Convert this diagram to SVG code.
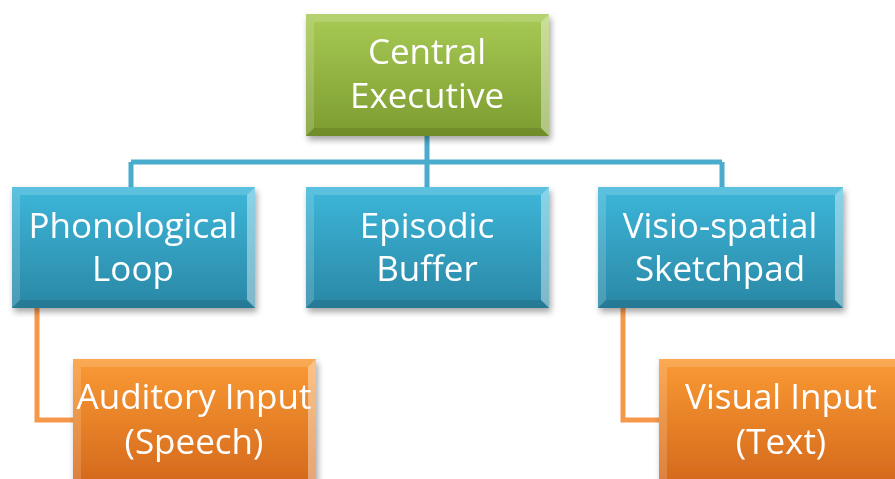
<svg xmlns="http://www.w3.org/2000/svg" width="895" height="479" viewBox="0 0 895 479">
<defs>
<linearGradient id="gGreen" x1="0" y1="0" x2="0" y2="1"><stop offset="0" stop-color="#a8ca55"/><stop offset="1" stop-color="#7c9c30"/></linearGradient>
<linearGradient id="gBlue" x1="0" y1="0" x2="0" y2="1"><stop offset="0" stop-color="#3db7da"/><stop offset="1" stop-color="#2a87a5"/></linearGradient>
<linearGradient id="gOrange" x1="0" y1="0" x2="0" y2="1"><stop offset="0" stop-color="#fa9a34"/><stop offset="1" stop-color="#d4691c"/></linearGradient>
<filter id="sh" x="-10%" y="-10%" width="125%" height="130%"><feDropShadow dx="2" dy="4" stdDeviation="3" flood-color="#000" flood-opacity="0.35"/></filter>
</defs>
<style>
.t{font-family:"Open Sans","Liberation Sans",sans-serif;font-size:35px;fill:#fff;text-anchor:middle}
.bl{fill:none;stroke:#4aaccc;stroke-width:5}
.or{fill:none;stroke:#f5984a;stroke-width:5}
.hl{fill:#fff;opacity:0.16}
.hr{fill:#fff;opacity:0.4}
.dk{fill:#000;opacity:0.1}
</style>
<g id="connectors">
<path class="bl" d="M427 136V187M131 162H722M131 162V187M722 162V187"/>
<path class="or" d="M37 308V420H73M623 308V420H659"/>
</g>
<g id="central" filter="url(#sh)">
<rect x="306" y="14" width="243" height="122" fill="url(#gGreen)"/>
<polygon class="hl" points="306,14 549,14 541,22 314,22"/>
<polygon class="hl" points="306,14 314,22 314,128 306,136"/>
<polygon class="hr" points="549,14 549,136 541,128 541,22"/>
<polygon class="dk" points="306,136 549,136 541,128 314,128"/>
<text class="t" x="427" y="64">Central</text>
<text class="t" x="427" y="108">Executive</text>
</g>
<g id="phonological" filter="url(#sh)">
<rect x="12" y="187" width="243" height="121" fill="url(#gBlue)"/>
<polygon class="hl" points="12,187 255,187 247,195 20,195"/>
<polygon class="hl" points="12,187 20,195 20,300 12,308"/>
<polygon class="hr" points="255,187 255,308 247,300 247,195"/>
<polygon class="dk" points="12,308 255,308 247,300 20,300"/>
<text class="t" x="133" y="238">Phonological</text>
<text class="t" x="133" y="281">Loop</text>
</g>
<g id="episodic" filter="url(#sh)">
<rect x="306" y="187" width="243" height="121" fill="url(#gBlue)"/>
<polygon class="hl" points="306,187 549,187 541,195 314,195"/>
<polygon class="hl" points="306,187 314,195 314,300 306,308"/>
<polygon class="hr" points="549,187 549,308 541,300 541,195"/>
<polygon class="dk" points="306,308 549,308 541,300 314,300"/>
<text class="t" x="427" y="238">Episodic</text>
<text class="t" x="427" y="281">Buffer</text>
</g>
<g id="visiospatial" filter="url(#sh)">
<rect x="598" y="187" width="245" height="121" fill="url(#gBlue)"/>
<polygon class="hl" points="598,187 843,187 835,195 606,195"/>
<polygon class="hl" points="598,187 606,195 606,300 598,308"/>
<polygon class="hr" points="843,187 843,308 835,300 835,195"/>
<polygon class="dk" points="598,308 843,308 835,300 606,300"/>
<text class="t" x="720" y="238">Visio-spatial</text>
<text class="t" x="720" y="281">Sketchpad</text>
</g>
<g id="auditory" filter="url(#sh)">
<rect x="73" y="359" width="243" height="125" fill="url(#gOrange)"/>
<polygon class="hl" points="73,359 316,359 308,367 81,367"/>
<polygon class="hl" points="73,359 81,367 81,484 73,484"/>
<polygon class="hr" points="316,359 316,484 308,484 308,367"/>
<text class="t" x="194" y="409">Auditory Input</text>
<text class="t" x="194" y="454">(Speech)</text>
</g>
<g id="visual" filter="url(#sh)">
<rect x="659" y="359" width="245" height="125" fill="url(#gOrange)"/>
<polygon class="hl" points="659,359 904,359 896,367 667,367"/>
<polygon class="hl" points="659,359 667,367 667,484 659,484"/>
<text class="t" x="781" y="409">Visual Input</text>
<text class="t" x="781" y="454">(Text)</text>
</g>
</svg>
